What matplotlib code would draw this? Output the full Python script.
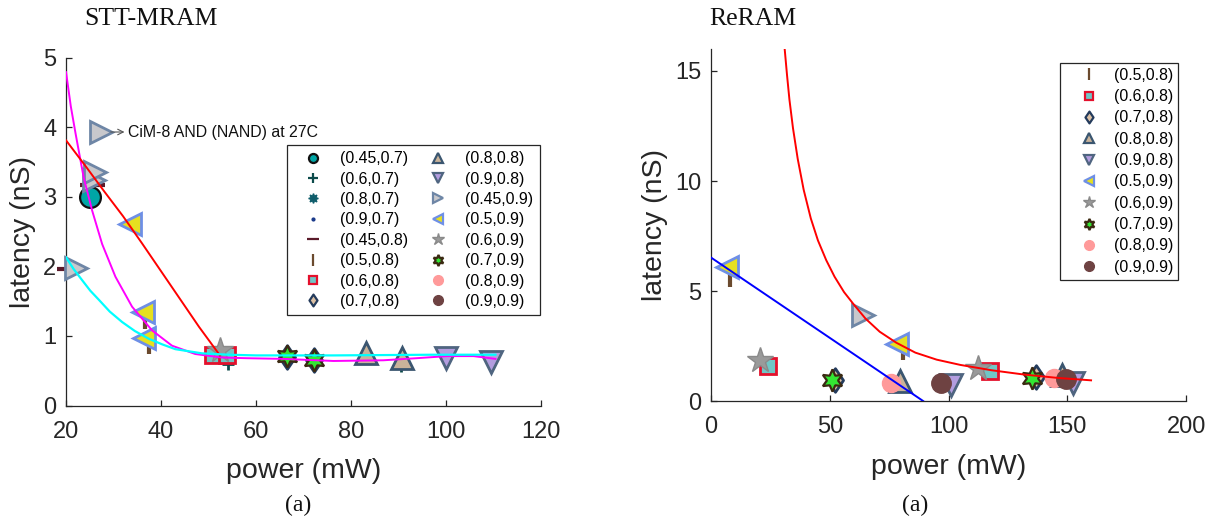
import numpy as np
import matplotlib
matplotlib.use("Agg")
import matplotlib.pyplot as plt
from matplotlib.lines import Line2D
from matplotlib.path import Path

plt.rcParams['font.family'] = ['Liberation Sans', 'DejaVu Sans']

# series labels: (input prob, output prob)
labels = ["(0.45,0.7)", "(0.6,0.7)", "(0.8,0.7)", "(0.9,0.7)",
          "(0.45,0.8)", "(0.5,0.8)", "(0.6,0.8)", "(0.7,0.8)",
          "(0.8,0.8)", "(0.9,0.8)", "(0.45,0.9)", "(0.5,0.9)",
          "(0.6,0.9)", "(0.7,0.9)", "(0.8,0.9)", "(0.9,0.9)"]

# STT-MRAM: power (mW) / latency (nS) per series
stt_power = [[25.0], [54.0, 90.5], [], [],
             [19.5, 24.5, 26.8], [36.7, 37.4], [51.0, 53.8], [66.6, 72.1],
             [83.1, 90.7], [100.0, 109.4], [22.0, 25.8, 26.2], [33.5, 36.1, 36.5],
             [52.4], [66.6, 72.1], [], []]
stt_latency = [[3.0], [0.6, 0.57], [], [],
               [1.96, 3.17, 3.17], [1.2, 0.84], [0.72, 0.72], [0.70, 0.65],
               [0.75, 0.68], [0.68, 0.62], [1.98, 3.24, 3.36], [2.61, 1.34, 0.97],
               [0.80], [0.71, 0.66], [], []]

# ReRAM series (subset shown in legend)
reram_labels = labels[5:]
reram_power = [[7.9, 81.0], [23.9, 117.4], [52.0, 136.7], [79.4, 147.9],
               [101.0, 152.5], [63.8], [6.7, 78.4], [20.8, 112.2],
               [51.0, 135.3], [75.8, 144.4], [96.8, 149.3]]
reram_latency = [[5.5, 2.17], [1.59, 1.36], [0.95, 1.08], [0.91, 1.2],
                 [0.73, 0.83], [3.89], [6.1, 2.59], [1.86, 1.48],
                 [0.95, 1.06], [0.83, 1.03], [0.80, 0.98]]

# annotated reference point
cim8_power, cim8_latency = 27.3, 3.93

# fitted trend curves (sampled)
stt_magenta_x = [20, 21.0, 22.0, 23.7, 25.5, 27.6, 30.4, 33.9, 38.1, 42.3, 47.2, 52.8,
                 58, 65.8, 76.3, 86.8, 93.8, 100.2, 105.8, 110.4]
stt_magenta_y = [4.79, 4.3, 3.91, 3.28, 2.8, 2.32, 1.85, 1.42, 1.08, 0.86, 0.74, 0.69,
                 0.68, 0.67, 0.64, 0.65, 0.68, 0.71, 0.71, 0.67]
stt_red_x = [20, 24, 28, 32, 36, 40, 44, 48, 52.4]
stt_red_y = [3.81, 3.45, 3.08, 2.72, 2.33, 1.93, 1.53, 1.13, 0.72]
stt_cyan_x = [20, 21.6, 23.4, 25.1, 26.9, 29.2, 31.8, 34.5, 37.4, 40.2, 43.0, 48.6,
              54.2, 60, 76.3, 97.3, 110.4]
stt_cyan_y = [2.13, 1.96, 1.80, 1.65, 1.52, 1.35, 1.2, 1.07, 0.96, 0.88, 0.81, 0.75,
              0.73, 0.72, 0.72, 0.73, 0.73]
reram_red_x = [31, 32, 33, 34.5, 36.5, 39, 42, 45, 48.5, 52, 56, 60, 65, 71, 78,
               86, 95, 105, 118, 132, 146, 160]
reram_red_y = [16.0, 14.8, 13.7, 12.4, 11.0, 9.6, 8.3, 7.3, 6.4, 5.65, 4.95, 4.4,
               3.75, 3.15, 2.65, 2.2, 1.88, 1.64, 1.4, 1.2, 1.05, 0.94]
reram_blue_x = [0, 89.3]
reram_blue_y = [6.52, 0]

hexagram = (6, 1, 0)
tall_diamond = Path([(0, 1), (0.68, 0), (0, -1), (-0.68, 0), (0, 1)],
                    [Path.MOVETO, Path.LINETO, Path.LINETO, Path.LINETO, Path.CLOSEPOLY])

# marker, size, face, edge, edge width
styles = {
    "(0.45,0.7)": ('o', 15, '#00a6a6', '#111111', 1.6),
    "(0.6,0.7)": ('+', 9, '#0d4b4b', '#0d4b4b', 2.0),
    "(0.8,0.7)": ((8, 1, 0), 8, '#0f5d6b', '#0f5d6b', 1.0),
    "(0.9,0.7)": ('.', 5, '#1a3a8a', '#1a3a8a', 1.0),
    "(0.45,0.8)": ('_', 10, '#5a1a2a', '#5a1a2a', 3.0),
    "(0.5,0.8)": ('|', 10, '#6b4a2e', '#6b4a2e', 3.0),
    "(0.6,0.8)": ('s', 12, '#70c6c6', '#e4102c', 2.0),
    "(0.7,0.8)": (tall_diamond, 17, '#dcc1a5', '#243b5c', 2.0),
    "(0.8,0.8)": ('^', 16, '#c9b39a', '#3b5670', 2.0),
    "(0.9,0.8)": ('v', 16, '#b39ddf', '#4f6580', 2.0),
    "(0.45,0.9)": ('>', 16, '#c8c8cc', '#6e86a6', 2.0),
    "(0.5,0.9)": ('<', 16, '#e6e020', '#6e8fe6', 2.0),
    "(0.6,0.9)": ('*', 19, '#9a9a9a', '#8a8a8a', 1.0),
    "(0.7,0.9)": (hexagram, 16, '#33e633', '#3b2a12', 1.6),
    "(0.8,0.9)": ('o', 13, '#ff9a9a', '#ff9a9a', 1.0),
    "(0.9,0.9)": ('o', 14, '#6e4242', '#6e4242', 1.0),
}
legend_ms = {"(0.9,0.7)": 4, "(0.6,0.8)": 5.5, "(0.6,0.9)": 9, "(0.7,0.9)": 8,
             "(0.8,0.9)": 7, "(0.9,0.9)": 7, "(0.45,0.8)": 8, "(0.5,0.8)": 8,
             "(0.7,0.8)": 8.5, "(0.8,0.7)": 7}


def plot_series(ax, lab, xs, ys):
    m, ms, fc, ec, mew = styles[lab]
    ax.plot(xs, ys, linestyle='none', marker=m, markersize=ms,
            markerfacecolor=fc, markeredgecolor=ec, markeredgewidth=mew,
            color=ec, clip_on=False, zorder=3)


def legend_handle(lab):
    m, ms, fc, ec, mew = styles[lab]
    return Line2D([], [], linestyle='none', marker=m,
                  markersize=legend_ms.get(lab, 6.5), markerfacecolor=fc,
                  markeredgecolor=ec, markeredgewidth=min(mew, 1.6), color=ec)


def style_axes(ax):
    for side in ('top', 'right'):
        ax.spines[side].set_visible(False)
    for side in ('left', 'bottom'):
        ax.spines[side].set_color('#262626')
        ax.spines[side].set_linewidth(0.9)
    ax.tick_params(direction='in', length=4, width=0.9, colors='#262626',
                   labelsize=17)
    ax.tick_params(axis='x', pad=11)
    ax.tick_params(axis='y', pad=7)
    ax.set_xlabel("power (mW)", fontsize=20.5, color='#262626', labelpad=11)
    ax.set_ylabel("latency (nS)", fontsize=20.5, color='#262626', labelpad=5)


fig = plt.figure(figsize=(12.23, 5.24), dpi=100)

# ---- STT-MRAM ----
ax1 = fig.add_axes([0.0540, 0.2261, 0.3884, 0.6641])
for lab, xs, ys in zip(labels, stt_power, stt_latency):
    plot_series(ax1, lab, xs, ys)
plot_series(ax1, "(0.45,0.9)", [cim8_power], [cim8_latency])
ax1.plot(stt_magenta_x, stt_magenta_y, color='#ff00ff', lw=1.4, zorder=4)
ax1.plot(stt_red_x, stt_red_y, color='#ff0000', lw=1.4, zorder=4)
ax1.plot(stt_cyan_x, stt_cyan_y, color='#00ffff', lw=1.6, zorder=4)
ax1.annotate('', xy=(32.3, cim8_latency), xytext=(29.4, cim8_latency),
             arrowprops=dict(arrowstyle='->', color='#555555', lw=0.8,
                             shrinkA=0, shrinkB=0))
ax1.text(33.0, cim8_latency, "CiM-8 AND (NAND) at 27C", fontsize=11.4,
         va='center', ha='left', color='#111111')
ax1.set_xlim(20, 120)
ax1.set_ylim(0, 5)
ax1.set_xticks([20, 40, 60, 80, 100, 120])
ax1.set_yticks([0, 1, 2, 3, 4, 5])
style_axes(ax1)
leg1 = ax1.legend(handles=[legend_handle(l) for l in labels], labels=labels,
                  ncol=2, loc='upper left', bbox_to_anchor=(0.465, 0.749),
                  borderaxespad=0, fontsize=11.4, frameon=True, fancybox=False,
                  edgecolor='#262626', framealpha=1, borderpad=0.4,
                  handlelength=2.5, handletextpad=0.45, columnspacing=0.65,
                  labelspacing=0.34)
leg1.get_frame().set_linewidth(0.9)
leg1.set_zorder(5)

# ---- ReRAM ----
ax2 = fig.add_axes([0.5814, 0.2347, 0.3884, 0.6718])
reram_order = ["(0.45,0.9)"] + [l for l in reram_labels if l != "(0.45,0.9)"]
for lab in reram_order:
    i = reram_labels.index(lab)
    plot_series(ax2, lab, reram_power[i], reram_latency[i])
ax2.plot(reram_red_x, reram_red_y, color='#ff0000', lw=1.4, zorder=4)
ax2.plot(reram_blue_x, reram_blue_y, color='#0000ff', lw=1.4, zorder=4)
ax2.set_xlim(0, 200)
ax2.set_ylim(0, 16)
ax2.set_xticks([0, 50, 100, 150, 200])
ax2.set_yticks([0, 5, 10, 15])
style_axes(ax2)
leg_labels = [l for l in reram_labels if l != "(0.45,0.9)"]
leg2 = ax2.legend(handles=[legend_handle(l) for l in leg_labels], labels=leg_labels,
                  loc='upper left', bbox_to_anchor=(0.735, 0.960),
                  borderaxespad=0, fontsize=11.4, frameon=True, fancybox=False,
                  edgecolor='#262626', framealpha=1, borderpad=0.3,
                  handlelength=3.0, handletextpad=0.1, labelspacing=0.4)
leg2.get_frame().set_linewidth(0.9)
leg2.set_zorder(5)

# panel titles and captions
fig.text(0.0687, 0.952, "STT-MRAM", family='Liberation Serif', fontsize=18.5,
         va='baseline', ha='left', color='#111111')
fig.text(0.5797, 0.952, "ReRAM", family='Liberation Serif', fontsize=18.5,
         va='baseline', ha='left', color='#111111')
fig.text(298 / 1223, 1 - 505 / 524, "(a)", family='Liberation Serif', fontsize=17,
         va='center', ha='center', color='#111111')
fig.text(915 / 1223, 1 - 505 / 524, "(a)", family='Liberation Serif', fontsize=17,
         va='center', ha='center', color='#111111')

fig.savefig("out.png", dpi=100)
